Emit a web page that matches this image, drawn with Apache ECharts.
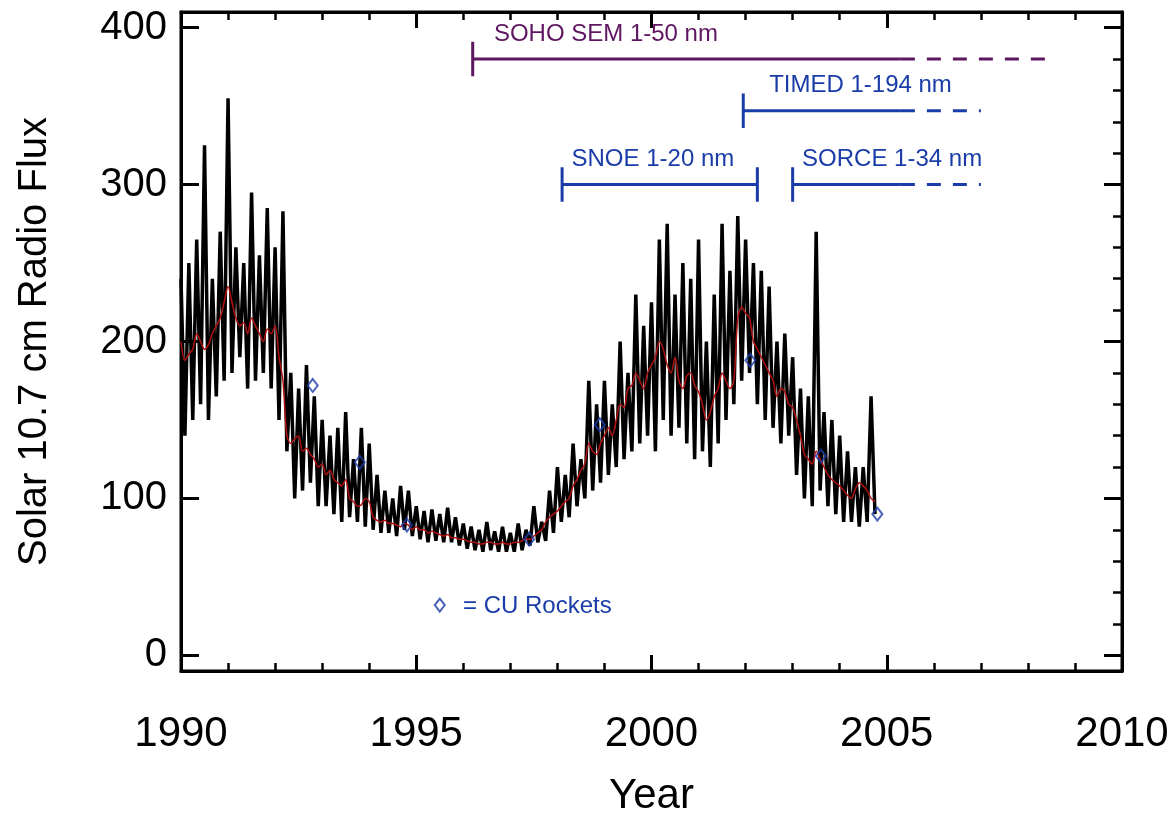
<!DOCTYPE html>
<html><head><meta charset="utf-8">
<script src="https://cdn.jsdelivr.net/npm/echarts@6/dist/echarts.min.js"></script>
<style>html,body{margin:0;background:#fff}#c{width:1168px;height:813px}</style>
</head><body><div id="c"></div>
<script>
const startYear = 1990, step = 1/12;
const dailyFlux = [
240,140,250,150,265,160,325,150,240,165,270,175,
355,180,260,190,250,170,295,175,255,180,285,170,
260,150,283,130,180,100,170,105,185,110,165,95,
150,95,140,90,145,85,155,88,125,85,145,82,
135,80,115,78,105,78,100,76,108,80,105,76,
95,74,92,72,93,73,90,72,94,72,88,70,
84,68,82,67,80,66,85,67,79,66,82,66,
78,66,84,67,80,70,95,72,85,73,105,78,
120,85,115,88,135,95,125,100,175,105,160,110,
175,115,160,120,200,125,180,130,230,135,210,140,
225,130,265,150,275,140,230,145,250,135,240,125,
265,130,200,120,230,135,275,150,245,160,280,175,
265,180,250,160,245,150,235,145,200,135,205,140,
190,115,170,100,165,95,270,105,155,95,150,90,
140,85,130,85,120,82,120,85,165,90];
const smoothFlux = [
200,188,192,195,205,200,195,198,205,210,215,225,
235,225,215,210,212,205,215,210,205,200,208,205,
210,190,175,140,135,138,140,130,132,128,125,120,
122,115,118,112,110,108,112,100,98,95,96,100,
98,88,86,85,86,84,84,83,82,84,83,80,
82,80,80,78,79,78,77,76,77,75,75,74,
74,73,72,72,71,71,72,72,71,71,72,71,
71,72,72,73,74,74,76,78,80,85,88,90,
92,95,98,100,108,112,118,122,135,130,128,135,
140,145,140,150,160,158,170,172,180,175,170,180,
185,190,200,195,185,180,190,175,170,178,180,172,
168,160,150,155,165,170,180,175,170,175,215,222,
218,215,200,195,190,185,180,175,165,170,168,160,
158,150,140,128,125,122,130,125,120,115,112,110,
108,105,102,100,106,110,108,105,100,98];
const rockets = [[1992.8,172],[1993.8,123],[1994.8,83],[1997.4,74],[1998.9,147],[2002.1,188],[2003.6,127],[2004.8,90]];
const legendMark = [[1995.5,32]];
// missions: name, start, solidEnd, dashedEnd, level, color, endTick, labelStart
const missions = [
 ["SOHO SEM 1-50 nm",1996.2,2005.3,2008.5,380,"#5e1660",false,1996.65],
 ["TIMED 1-194 nm",2001.95,2005.3,2007.0,347,"#1a3ca8",false,2002.5],
 ["SNOE 1-20 nm",1998.1,2002.25,null,300,"#1a3ca8",true,1998.3],
 ["SORCE 1-34 nm",2003.0,2005.3,2007.0,300,"#1a3ca8",false,2003.2]
];
const yTicks = [0,100,200,300,400];
const yMinor = [20,40,60,80,120,140,160,180,220,240,260,280,320,340,360,380];

const toXY = a => a.map((v,i)=>[startYear+i*step, v]);
const series = [
 {type:'line',data:toXY(dailyFlux),symbol:'none',lineStyle:{color:'#000',width:3.5},z:2},
 {type:'line',data:toXY(smoothFlux),symbol:'none',smooth:0.3,lineStyle:{color:'#b01010',width:1.5},z:3},
 {type:'scatter',data:rockets.concat(legendMark),symbol:'diamond',symbolSize:[10,13],itemStyle:{color:'transparent',borderColor:'#1a3ca8',borderWidth:2},z:4},
 {type:'line',xAxisIndex:1,data:[[1990,0]],symbol:'none'}
];
missions.forEach(m=>{
 const [name,s,e,d,y,c,endTick,ls]=m;
 series.push({type:'line',data:[[s,y],[e,y]],symbol:'none',lineStyle:{color:c,width:3}});
 series.push({type:'scatter',data:[[ls,y]],symbolSize:0,z:5,itemStyle:{color:c,opacity:1},
   label:{show:true,formatter:name,position:'right',offset:[-5,-25],color:c,opacity:1,fontSize:24,fontFamily:'Liberation Sans'}});
 if(d) series.push({type:'line',data:[[e,y],[d,y]],symbol:'none',lineStyle:{color:c,width:3,type:[14,12]}});
 series.push({type:'line',data:[[s,y-11],[s,y+11]],symbol:'none',lineStyle:{color:c,width:3}});
 if(endTick) series.push({type:'line',data:[[e,y-11],[e,y+11]],symbol:'none',lineStyle:{color:c,width:3}});
});
const axFont={color:'#000',fontSize:40,fontFamily:'Liberation Sans'};
const tk={inside:true,length:16,lineStyle:{width:3,color:'#000'}};
const mtk={show:true,splitNumber:5,length:8,lineStyle:{color:'#000',width:2.5}};
const chart=echarts.init(document.getElementById('c'));
chart.setOption({
 animation:false,
 grid:{left:181,right:46,top:12,bottom:142,show:true,borderColor:'#000',borderWidth:3,outerBoundsMode:'none',containLabel:false},
 xAxis:[{type:'value',min:1990,max:2010,interval:5,name:'Year',nameLocation:'middle',nameGap:104,nameTextStyle:{fontSize:42,fontFamily:'Liberation Sans',color:'#000'},
   axisLine:{onZero:false,lineStyle:{color:'#000',width:3}},axisTick:tk,minorTick:mtk,splitLine:{show:false},
   axisLabel:{...axFont,fontSize:42,margin:42,formatter:v=>String(v)}},
  {type:'value',position:'top',min:1990,max:2010,interval:5,axisLine:{onZero:false,lineStyle:{color:'#000',width:3}},axisTick:tk,
   minorTick:mtk,axisLabel:{show:false},splitLine:{show:false}}],
 yAxis:[{type:'value',min:-10,max:410,name:'Solar 10.7 cm Radio Flux',nameLocation:'middle',nameGap:126,nameTextStyle:{fontSize:40,fontFamily:'Liberation Sans',color:'#000'},
   axisLine:{show:true,onZero:false,lineStyle:{color:'#000',width:3}},axisTick:{show:true,inside:true,length:18,customValues:yTicks,lineStyle:{width:3,color:'#000'}},splitLine:{show:false},
   axisLabel:{...axFont,margin:14,customValues:yTicks}},
  {type:'value',min:-10,max:410,position:'right',axisLine:{show:true,onZero:false,lineStyle:{color:'#000',width:3}},axisLabel:{show:false},splitLine:{show:false},
   axisTick:{show:true,inside:true,length:18,customValues:yTicks,lineStyle:{width:3,color:'#000'}}},
  {type:'value',min:-10,max:410,show:true,axisLine:{show:false},axisLabel:{show:false},splitLine:{show:false},
   axisTick:{show:true,inside:true,length:9,customValues:yMinor,lineStyle:{width:2.5,color:'#000'}}},
  {type:'value',min:-10,max:410,show:true,position:'right',axisLine:{show:false},axisLabel:{show:false},splitLine:{show:false},
   axisTick:{show:true,inside:true,length:9,customValues:yMinor,lineStyle:{width:2.5,color:'#000'}}}],
 series:series.concat([2,3].map(i=>({type:'line',yAxisIndex:i,data:[[1990,0]],symbol:'none'}))),
 graphic:[{type:'text',left:463,top:594,style:{text:'= CU Rockets',fill:'#1a3ca8',fontSize:24,fontFamily:'Liberation Sans'}}]
});
</script></body></html>
